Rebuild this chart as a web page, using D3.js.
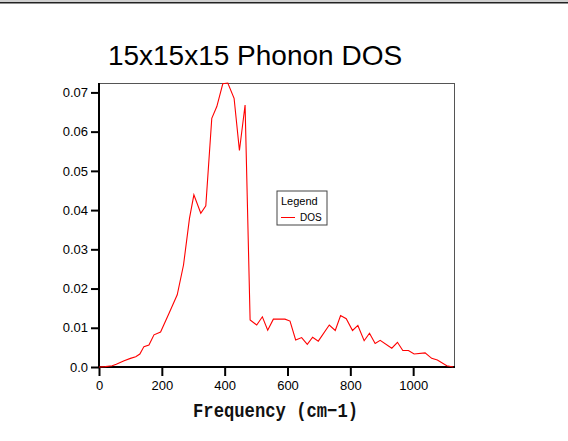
<!DOCTYPE html>
<html><head><meta charset="utf-8">
<script src="https://cdn.jsdelivr.net/npm/d3@7"></script>
<style>
html,body{margin:0;padding:0;background:#fff;}
svg{display:block;}
</style></head>
<body>
<script>
const title = "15x15x15 Phonon DOS";
const xLabel = "Frequency (cm\u22121)";
const seriesName = "DOS";
const freq = [0, 20, 42, 55, 80, 100, 117, 130, 143, 159, 175, 196, 223, 249, 269, 288, 302, 324, 340, 359, 375, 394, 410, 430, 447, 465, 481, 502, 520, 537, 555, 592, 608, 626, 645, 663, 680, 698, 733, 752, 769, 787, 807, 824, 844, 861, 879, 895, 932, 950, 967, 985, 1003, 1038, 1059, 1077, 1107, 1128];
const dos = [0, 0.0001, 0.0003, 0.0007, 0.0016, 0.0022, 0.0026, 0.0033, 0.0052, 0.0056, 0.0082, 0.0089, 0.0137, 0.0184, 0.0260, 0.0379, 0.0439, 0.0392, 0.0411, 0.0634, 0.0664, 0.0722, 0.0724, 0.0685, 0.0552, 0.0668, 0.0120, 0.0107, 0.0128, 0.0094, 0.0122, 0.0122, 0.0117, 0.0069, 0.0075, 0.0058, 0.0076, 0.0066, 0.0107, 0.0093, 0.0131, 0.0123, 0.0093, 0.0106, 0.0067, 0.0086, 0.0060, 0.0068, 0.0048, 0.0063, 0.0042, 0.0042, 0.0033, 0.0036, 0.0022, 0.0018, 0.0003, 0];
const xTicks = [0, 200, 400, 600, 800, 1000];
const yTicks = [0, 0.01, 0.02, 0.03, 0.04, 0.05, 0.06, 0.07];
const xDomain = [0, 1130];
const yDomain = [0, 0.0724];

const W = 568, H = 441;
const L = 99, R = 454, T = 83, B = 367;

const svg = d3.select("body").append("svg").attr("width", W).attr("height", H);
svg.append("rect").attr("x",0).attr("y",0).attr("width",W).attr("height",2).attr("fill","#d0d0d0");
svg.append("rect").attr("x",0).attr("y",2).attr("width",W).attr("height",1.5).attr("fill","#222");

const x = d3.scaleLinear().domain(xDomain).range([L, R]);
const y = d3.scaleLinear().domain(yDomain).range([B, T]);

svg.append("text").attr("x", 255).attr("y", 65).attr("text-anchor","middle")
  .attr("font-family","Liberation Sans, Arial, sans-serif").attr("font-size",28).attr("fill","#000").text(title);

// frame top/right
svg.append("line").attr("x1",L).attr("x2",R).attr("y1",T+0.5).attr("y2",T+0.5).attr("stroke","#555").attr("stroke-width",1);
svg.append("line").attr("x1",R+0.5).attr("x2",R+0.5).attr("y1",T).attr("y2",B).attr("stroke","#555").attr("stroke-width",1);

const xAxis = d3.axisBottom(x).tickValues(xTicks).tickSize(9).tickPadding(5).tickFormat(d3.format("d"));
const gx = svg.append("g").attr("transform",`translate(0,${B})`).call(xAxis);
gx.select(".domain").attr("stroke","#000").attr("stroke-width",2).attr("d",`M${L},0H${R+1}`);
gx.selectAll(".tick line").attr("stroke","#000").attr("stroke-width",2);
gx.selectAll(".tick text").attr("font-family","Liberation Sans, Arial, sans-serif").attr("font-size",13).attr("fill","#000");

const yAxis = d3.axisLeft(y).tickValues(yTicks).tickSize(8).tickPadding(3).tickFormat(d => d === 0 ? "0.0" : d3.format(".2f")(d));
const gy = svg.append("g").attr("transform",`translate(${L},0)`).call(yAxis);
gy.select(".domain").attr("stroke","#000").attr("stroke-width",2).attr("d",`M0,${B}V${T}`);
gy.selectAll(".tick line").attr("stroke","#000").attr("stroke-width",2);
gy.selectAll(".tick text").attr("font-family","Liberation Sans, Arial, sans-serif").attr("font-size",13).attr("fill","#000");

const line = d3.line().x((d,i)=>x(freq[i])).y(d=>y(d));
svg.append("path").datum(dos).attr("d", line).attr("fill","none").attr("stroke","#ff0000").attr("stroke-width",1.1);

svg.append("text").attr("x", 193).attr("y", 417)
  .attr("textLength", 165).attr("lengthAdjust","spacingAndGlyphs")
  .attr("font-family","Liberation Mono, Courier New, monospace").attr("font-size",20).attr("font-weight","bold").attr("fill","#111").text(xLabel);

// legend
const lg = svg.append("g");
lg.append("rect").attr("x",277).attr("y",191).attr("width",50).attr("height",34).attr("fill","#fff").attr("stroke","#444").attr("stroke-width",1);
lg.append("text").attr("x",281).attr("y",205).attr("font-family","Liberation Sans, Arial, sans-serif").attr("font-size",11).attr("fill","#000").text("Legend");
lg.append("line").attr("x1",281).attr("x2",295).attr("y1",217.5).attr("y2",217.5).attr("stroke","#ff0000").attr("stroke-width",1);
lg.append("text").attr("x",300).attr("y",221).attr("font-family","Liberation Sans, Arial, sans-serif").attr("font-size",10).attr("fill","#000").text(seriesName);
</script>
</body></html>
